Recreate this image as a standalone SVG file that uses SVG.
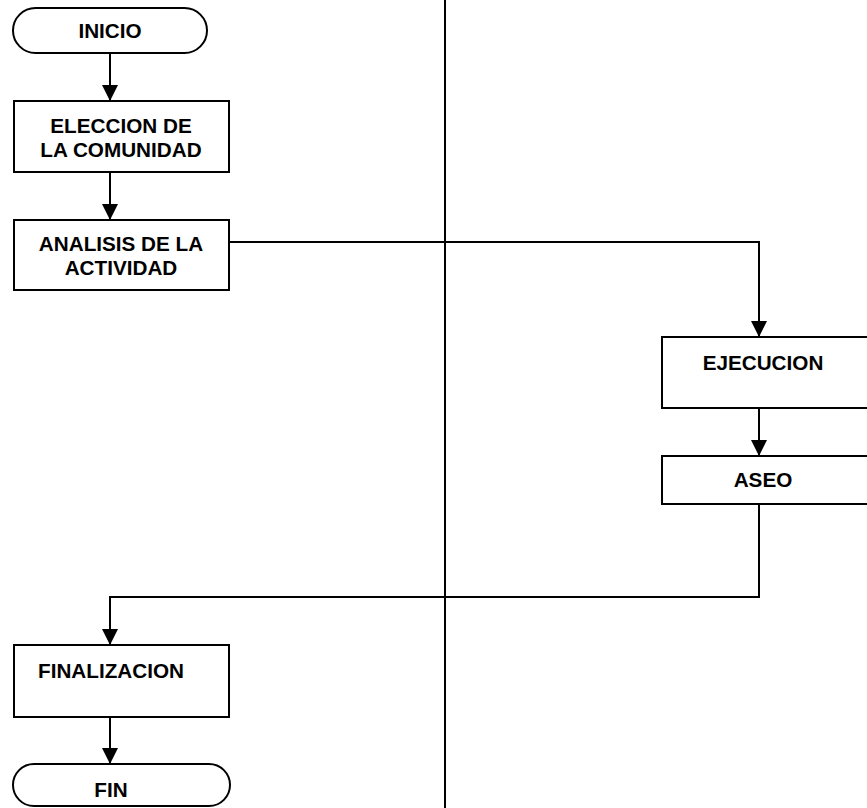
<svg xmlns="http://www.w3.org/2000/svg" width="867" height="808" viewBox="0 0 867 808">
<defs>
<style>
.box{fill:#fff;stroke:#000;stroke-width:2}
.ln{fill:none;stroke:#000;stroke-width:2}
.t{font-family:"Liberation Sans",Arial,sans-serif;font-weight:bold;font-size:20.7px;fill:#000;text-anchor:middle}
</style>
<marker id="ah" viewBox="0 0 16 16" markerWidth="16" markerHeight="16" refX="16" refY="8" orient="auto" markerUnits="userSpaceOnUse">
<path d="M0,0 L16,8 L0,16 Z" fill="#000"/>
</marker>
</defs>
<rect width="867" height="808" fill="#fff"/>
<line x1="445" y1="0" x2="445" y2="808" stroke="#000" stroke-width="2"/>
<g id="connectors">
<line class="ln" x1="110" y1="53" x2="110" y2="101" marker-end="url(#ah)"/>
<line class="ln" x1="110" y1="172" x2="110" y2="220" marker-end="url(#ah)"/>
<polyline class="ln" points="229,242 759,242 759,337" marker-end="url(#ah)"/>
<line class="ln" x1="759" y1="408" x2="759" y2="456" marker-end="url(#ah)"/>
<polyline class="ln" points="759,504 759,597 110,597 110,645" marker-end="url(#ah)"/>
<line class="ln" x1="110" y1="717" x2="110" y2="764" marker-end="url(#ah)"/>
</g>
<g id="inicio">
<rect class="box" x="13" y="8" width="194" height="45" rx="22.5" ry="22.5"/>
<text class="t" x="110" y="38">INICIO</text>
</g>
<g id="eleccion">
<rect class="box" x="14" y="101" width="215" height="71"/>
<text class="t" x="121" y="133">ELECCION DE</text>
<text class="t" x="121" y="157">LA COMUNIDAD</text>
</g>
<g id="analisis">
<rect class="box" x="14" y="220" width="215" height="70"/>
<text class="t" x="121" y="251">ANALISIS DE LA</text>
<text class="t" x="121" y="275">ACTIVIDAD</text>
</g>
<g id="ejecucion">
<rect class="box" x="662" y="337" width="215" height="71"/>
<text class="t" x="763" y="370">EJECUCION</text>
</g>
<g id="aseo">
<rect class="box" x="662" y="456" width="215" height="48"/>
<text class="t" x="763" y="487">ASEO</text>
</g>
<g id="finalizacion">
<rect class="box" x="14" y="645" width="215" height="72"/>
<text class="t" x="111" y="678">FINALIZACION</text>
</g>
<g id="fin">
<rect class="box" x="13" y="764" width="217" height="42" rx="21" ry="21"/>
<text class="t" x="111" y="797">FIN</text>
</g>
</svg>
